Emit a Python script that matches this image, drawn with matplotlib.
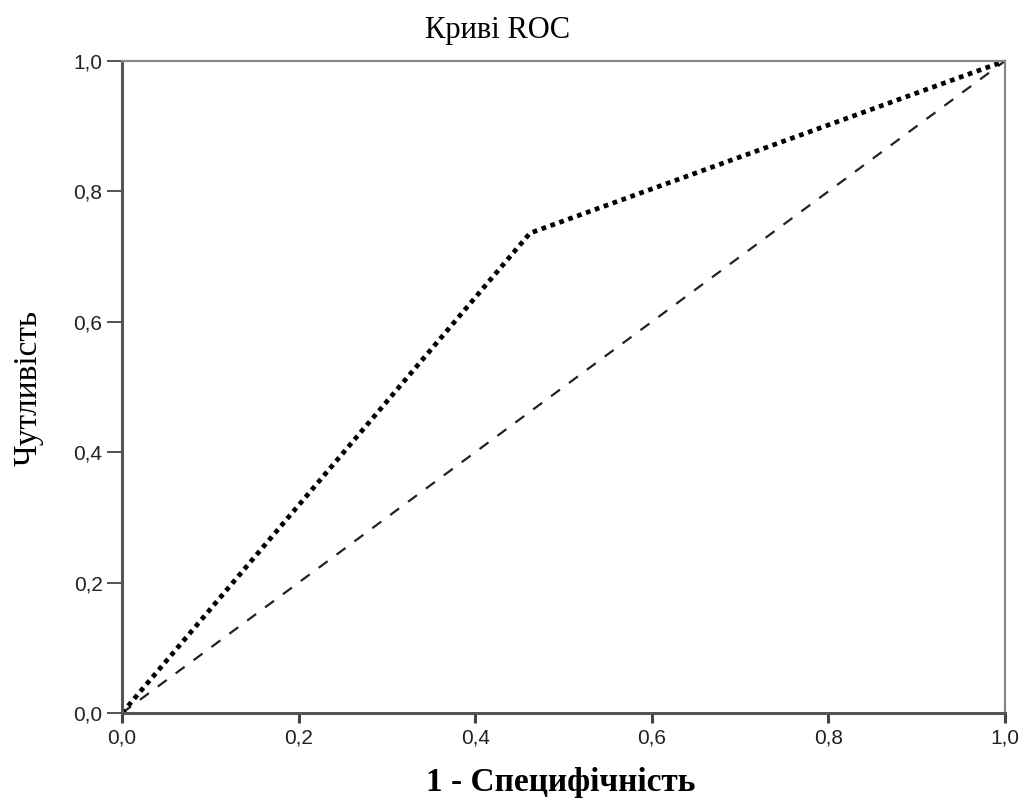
import matplotlib
matplotlib.use("Agg")
import matplotlib.pyplot as plt

# ROC curve points (1 - specificity, sensitivity)
fpr = [0.0, 0.462, 1.0]
tpr = [0.0, 0.736, 1.0]
ref_line = [0.0, 1.0]
ticks = [0.0, 0.2, 0.4, 0.6, 0.8, 1.0]
tick_labels = ["0,0", "0,2", "0,4", "0,6", "0,8", "1,0"]

fig = plt.figure(figsize=(10.29, 7.98), dpi=100)
ax = fig.add_axes([0.1186, 0.1065, 0.8581, 0.8171])

ax.plot(ref_line, ref_line, color="#222222", linewidth=1.6, linestyle=(0, (5, 5)))
ax.plot(fpr, tpr, color="black", linewidth=3.4, linestyle=(0, (1, 1)))

ax.set_xlim(0, 1)
ax.set_ylim(0, 1)
ax.set_xticks(ticks)
ax.set_xticklabels(tick_labels)
ax.set_yticks(ticks)
ax.set_yticklabels(tick_labels)
ax.tick_params(direction="out", color="#444444", labelsize=15,
               labelcolor="#222222")
ax.tick_params(axis="x", length=7, width=2.2, pad=4)
ax.tick_params(axis="y", length=11, width=1.3, pad=3)
for lab in ax.get_xticklabels() + ax.get_yticklabels():
    lab.set_family("Liberation Sans")

for side in ["left", "bottom"]:
    ax.spines[side].set_color("#555555")
    ax.spines[side].set_linewidth(2.2)
for side in ["top", "right"]:
    ax.spines[side].set_color("#888888")
    ax.spines[side].set_linewidth(1.6)

fig.text(498 / 1029, 1 - 38 / 798, "Криві ROC", family="Liberation Serif",
         fontsize=22, ha="center", va="baseline")
fig.text(561 / 1029, 1 - 791 / 798, "1 - Специфічність", family="Liberation Serif",
         fontsize=24, fontweight="bold", ha="center", va="baseline")
fig.text(28 / 1029, 1 - 388 / 798, "Чутливість", family="Liberation Serif",
         fontsize=24, rotation=90, ha="center", va="center")

fig.savefig("out.png", dpi=100)
